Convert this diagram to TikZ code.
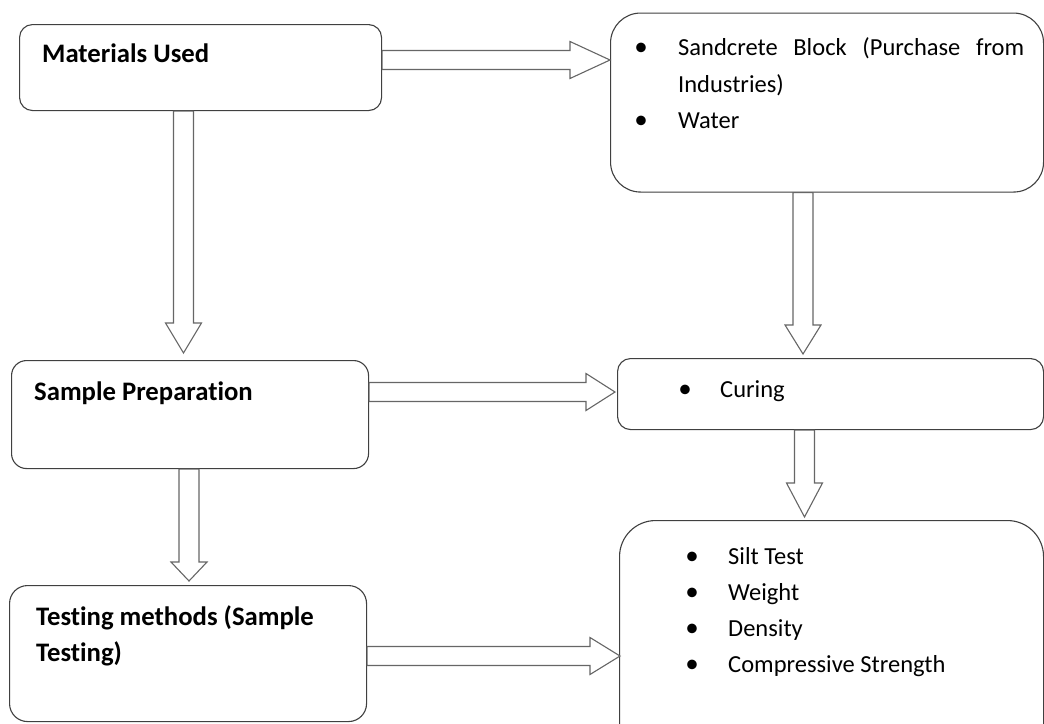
\documentclass[tikz,border=0pt]{standalone}
\usepackage{fontspec}
\setmainfont{Carlito}[Ligatures={NoCommon,NoContextual}]
\usetikzlibrary{calc}

\tikzset{
  box/.style={draw=black!75, line width=1.1pt, fill=white, rectangle,
              inner sep=0pt, anchor=north west},
  blk/.style={draw=black!60, line width=1.1pt, fill=white, line join=miter},
  head/.style={font=\fontsize{26.7}{32}\selectfont\bfseries, anchor=base west,
               inner sep=0pt},
  item/.style={font=\fontsize{24.5}{30}\selectfont, anchor=base west,
               inner sep=0pt},
  dot/.style={font=\fontsize{27}{30}\selectfont, anchor=base, inner sep=0pt},
}

% block arrow pointing right: start, tip, head length
\newcommand\rightblock[3]{%
  \draw[blk] let \p1=(#1), \p2=(#2) in
    (\x1,\y2+9.5pt) -- (\x2-#3pt,\y2+9.5pt) -- (\x2-#3pt,\y2+18.5pt)
    -- (\x2,\y2) -- (\x2-#3pt,\y2-18.5pt) -- (\x2-#3pt,\y2-9.5pt)
    -- (\x1,\y2-9.5pt) -- cycle;}
% block arrow pointing down: start, tip, head length
\newcommand\downblock[3]{%
  \draw[blk] let \p1=(#1), \p2=(#2) in
    (\x2-10pt,\y1) -- (\x2-10pt,\y2+#3pt) -- (\x2-18pt,\y2+#3pt)
    -- (\x2,\y2) -- (\x2+18pt,\y2+#3pt) -- (\x2+10pt,\y2+#3pt)
    -- (\x2+10pt,\y1) -- cycle;}

\begin{document}
\begin{tikzpicture}[x=1pt, y=-1pt]
  \useasboundingbox (0,0) rectangle (1044,723);
  \clip (0,0) rectangle (1044,723);

  % boxes
  \node[box, minimum width=362pt, minimum height=86pt, rounded corners=13pt]
    (mat) at (19,24) {};
  \node[box, minimum width=433pt, minimum height=179pt, rounded corners=30pt]
    (src) at (610,12.5) {};
  \node[box, minimum width=357pt, minimum height=108pt, rounded corners=15pt]
    (prep) at (11,360) {};
  \node[box, minimum width=426pt, minimum height=71pt, rounded corners=13pt]
    (cur) at (617,358) {};
  \node[box, minimum width=424pt, minimum height=240pt, rounded corners=36pt]
    (tests) at (619,520) {};
  \node[box, minimum width=357pt, minimum height=136pt, rounded corners=18pt]
    (meth) at (9,585) {};

  % arrow tips
  \coordinate (tAB) at (610,60);
  \coordinate (tPC) at (615,392);
  \coordinate (tME) at (620,656);
  \coordinate (tAP) at (183.5,353);
  \coordinate (tSC) at (803,354);
  \coordinate (tCT) at (804.5,517);
  \coordinate (tPM) at (189,581);

  % connectors
  \rightblock{mat.east |- tAB}{tAB}{40}
  \rightblock{prep.east |- tPC}{tPC}{29}
  \rightblock{meth.east |- tME}{tME}{30}
  \downblock{mat.south -| tAP}{tAP}{30}
  \downblock{src.south -| tSC}{tSC}{29}
  \downblock{cur.south -| tCT}{tCT}{34}
  \downblock{prep.south -| tPM}{tPM}{19}

  % titles
  \node[head] (matT) at (42,62) {Materials Used};
  \node[head] (prepT) at (34,400) {Sample Preparation};
  \node[head] (methT1) at (36,625) {Testing methods (Sample};
  \node[head] (methT2) at (36,661) {Testing)};

  % materials list
  \node[dot] (b1) at (641,55) {•};
  \node[item] (s1) at (678,55) {\makebox[346pt][s]{Sandcrete Block (Purchase from}};
  \node[item] (s2) at (678,92) {Industries)};
  \node[dot] (b2) at (641,128) {•};
  \node[item] (s3) at (678,128) {Water};

  % curing
  \node[dot] (b3) at (685,397) {•};
  \node[item] (c1) at (720,397) {Curing};

  % tests list
  \node[dot] (b4) at (692,564) {•};
  \node[item] (t1) at (728,564) {Silt Test};
  \node[dot] (b5) at (692,600) {•};
  \node[item] (t2) at (728,600) {Weight};
  \node[dot] (b6) at (692,636) {•};
  \node[item] (t3) at (728,636) {Density};
  \node[dot] (b7) at (692,672) {•};
  \node[item] (t4) at (728,672) {Compressive Strength};
\end{tikzpicture}
\end{document}
